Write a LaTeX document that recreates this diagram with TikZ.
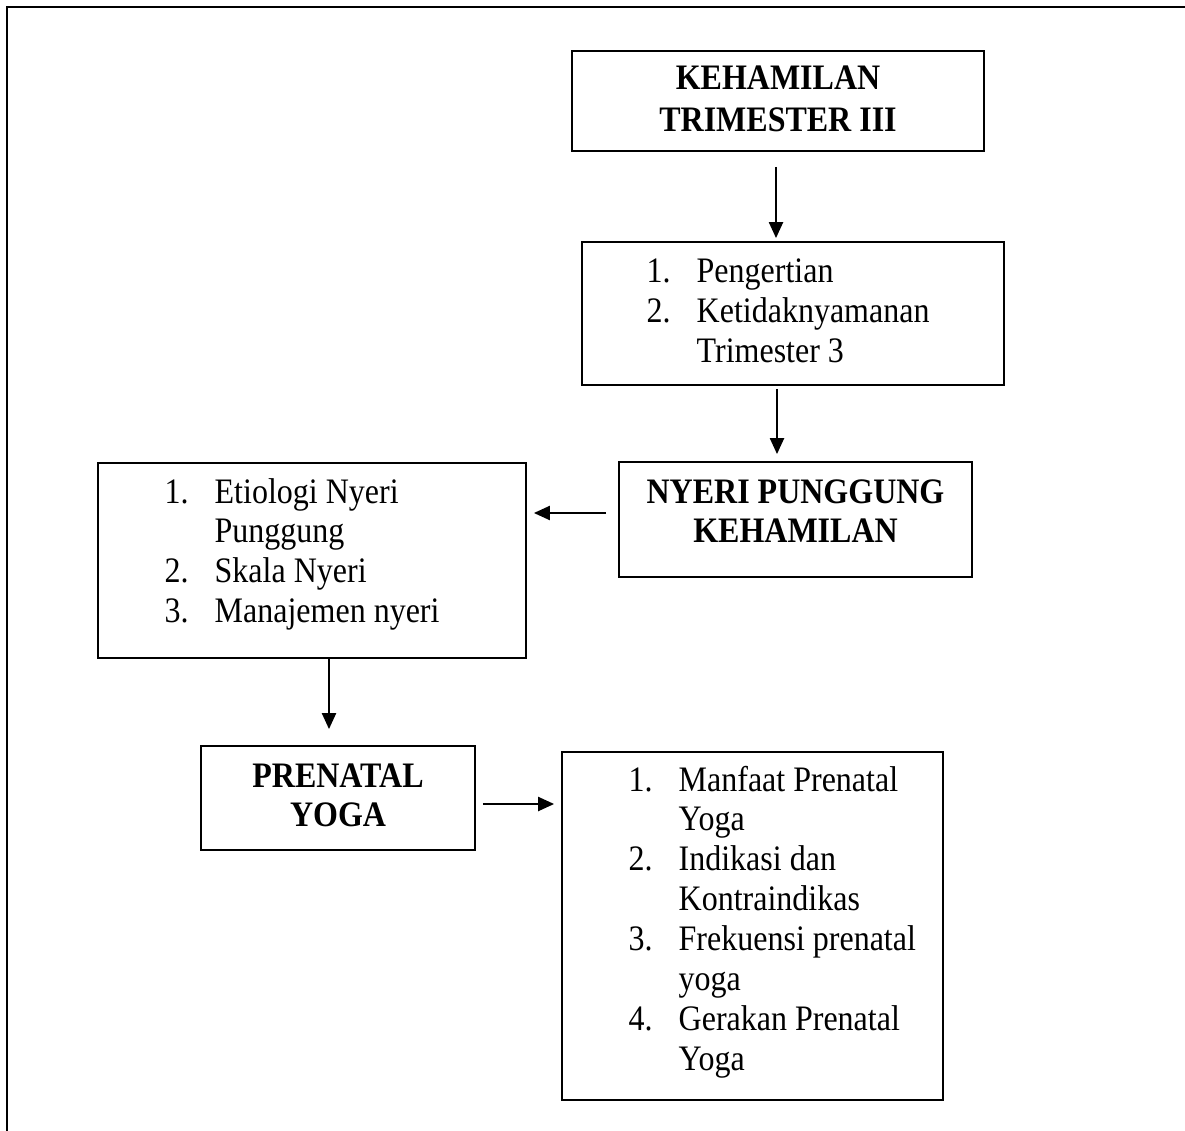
\documentclass[tikz,border=0pt]{standalone}
\usepackage{fontspec}
\setmainfont{Liberation Serif}
\usepackage{graphicx}
\usetikzlibrary{arrows.meta,calc}
\newcommand\vstr[1]{\scalebox{1}[1.12]{#1}}
\begin{document}
\begin{tikzpicture}[x=1pt,y=-1pt,
  box/.style={draw, line width=1.8pt, inner sep=0pt},
  arr/.style={line width=2.2pt, -{Triangle[length=16pt,width=14pt]}},
  ttl/.style={inner sep=0pt, anchor=base, font=\fontsize{32}{35.5}\selectfont\bfseries},
  lst/.style={inner sep=0pt, anchor=base west, font=\fontsize{32}{35.6}\selectfont},
]
\useasboundingbox (0,0) rectangle (1185,1131);
\clip (0,0) rectangle (1185,1131);
% outer frame (only top and left edges visible)
\draw[line width=2.2pt] (1200,7) -- (7,7) -- (7,1150);

% boxes
\node[box, minimum width=412pt, minimum height=100pt] (b1) at (778,101) {};
\node[box, minimum width=422pt, minimum height=143pt] (b2) at (793,313.5) {};
\node[box, minimum width=353pt, minimum height=115pt] (b3) at (795.5,519.5) {};
\node[box, minimum width=428pt, minimum height=195pt] (b4) at (312,560.5) {};
\node[box, minimum width=274pt, minimum height=104pt] (b5) at (338,798) {};
\node[box, minimum width=381pt, minimum height=348pt] (b6) at (752.5,926) {};

% texts
\node[ttl] (t1) at (778,90) {\vstr{\begin{tabular}[t]{@{}c@{}}KEHAMILAN\\[1.5pt] TRIMESTER III\end{tabular}}};
\node[lst] (t2) at (646.5,283) {\vstr{\begin{tabular}[t]{@{}p{50pt}@{}l@{}}1.&Pengertian\\2.&Ketidaknyamanan\\&Trimester 3\end{tabular}}};
\node[ttl] (t3) at (795.5,503) {\vstr{\begin{tabular}[t]{@{}c@{}}NYERI PUNGGUNG\\KEHAMILAN\end{tabular}}};
\node[lst] (t4) at (164.5,503) {\vstr{\begin{tabular}[t]{@{}p{50pt}@{}l@{}}1.&Etiologi Nyeri\\&Punggung\\2.&Skala Nyeri\\3.&Manajemen nyeri\end{tabular}}};
\node[ttl] (t5) at (338,787) {\vstr{\begin{tabular}[t]{@{}c@{}}PRENATAL\\YOGA\end{tabular}}};
\node[lst] (t6) at (628.5,791) {\vstr{\begin{tabular}[t]{@{}p{50pt}@{}l@{}}1.&Manfaat Prenatal\\&Yoga\\2.&Indikasi dan\\&Kontraindikas\\3.&Frekuensi prenatal\\&yoga\\4.&Gerakan Prenatal\\&Yoga\end{tabular}}};

% connectors
\draw[arr] ($(b1.south)+(-2,15)$) -- ($(b2.north)+(-17,-3)$);
\draw[arr] ($(b2.south)+(-16,3)$) -- ($(b3.north)+(-18.5,-7)$);
\draw[arr] ($(b3.west)+(-12,-6.5)$) -- ($(b4.east)+(7,-47.5)$);
\draw[arr] ($(b4.south)+(17,0)$) -- ($(b5.north)+(-9,-16)$);
\draw[arr] ($(b5.east)+(7,6)$) -- ($(b6.west)+(-7,-122)$);
\end{tikzpicture}
\end{document}
